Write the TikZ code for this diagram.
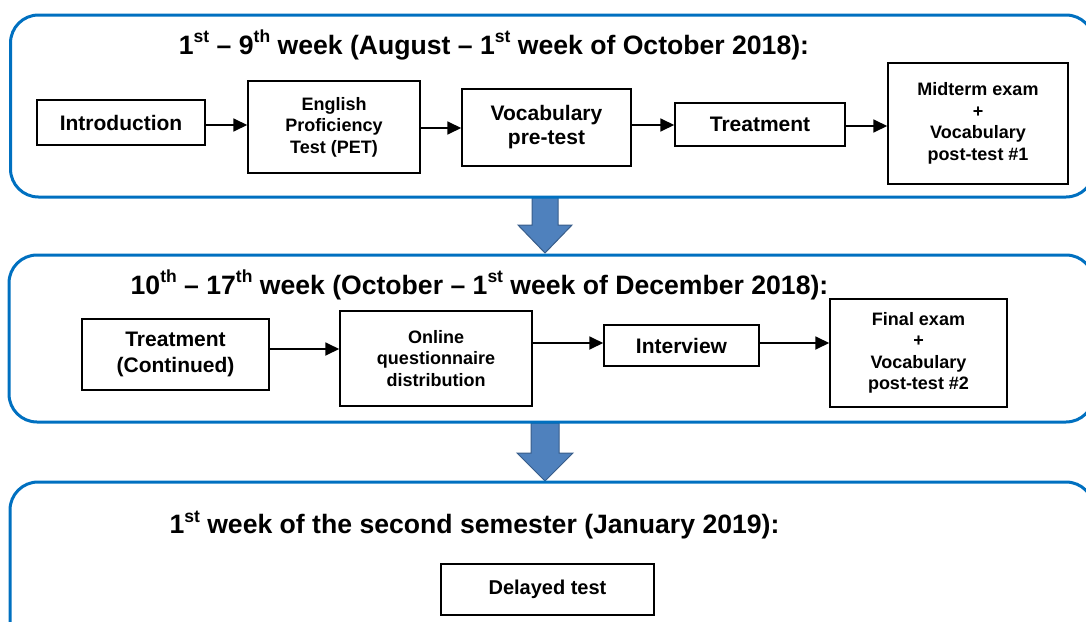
\documentclass[tikz,border=0pt]{standalone}
\usepackage{fontspec}
\setmainfont{Liberation Sans}
\usetikzlibrary{arrows.meta}
\definecolor{frameblue}{HTML}{0070C0}
\definecolor{arrowfill}{HTML}{4F81BD}
\definecolor{arrowline}{HTML}{385D8A}
% small raised ordinal suffix
\newcommand\ordsup[1]{\raisebox{0.42em}{\fontsize{17.5}{17.5}\selectfont #1}}
\begin{document}
\begin{tikzpicture}[x=1pt,y=-1pt,
  stage/.style={draw=frameblue, line width=3pt, rounded corners=28pt},
  stepbox/.style={draw=black, line width=1.5pt, align=center, inner sep=0pt,
    font=\bfseries\fontsize{21}{24}\selectfont},
  small/.style={font=\bfseries\fontsize{18}{21.5}\selectfont},
  flow/.style={-{Triangle[length=14pt,width=13pt]}, line width=1.8pt},
  title/.style={inner sep=0pt, font=\bfseries\fontsize{26.6}{30}\selectfont},
  bigarrow/.style={fill=arrowfill, draw=arrowline, line width=1pt}]
\useasboundingbox (0,0) rectangle (1086,621);

% block arrows between the stages
\draw[bigarrow] (532,197) -- (558,197) -- (558,225) -- (572,225) -- (545,253)
  -- (518,225) -- (532,225) -- cycle;
\draw[bigarrow] (531,423) -- (559,423) -- (559,453) -- (573,453) -- (545,481)
  -- (517,453) -- (531,453) -- cycle;

% stage frames
\draw[stage] (10.5,15) rectangle (1094,197);
\draw[stage] (9,255) rectangle (1094,422);
\draw[stage] (10,482) rectangle (1094,660);

% stage 1
\node[title] (t1) at (494,45)
  {1\ordsup{st} – 9\ordsup{th} week (August – 1\ordsup{st} week of October 2018):};
\node[stepbox, minimum width=168pt, minimum height=45pt] (intro) at (121,122.5) {Introduction};
\node[stepbox, small, minimum width=172pt, minimum height=92pt] (pet) at (334,127)
  {English\\Proficiency\\Test (PET)};
\node[stepbox, minimum width=169pt, minimum height=77pt] (vpre) at (546.5,127.5)
  {Vocabulary\\pre-test};
\node[stepbox, minimum width=170pt, minimum height=43pt] (treat) at (760,124.5) {Treatment};
\node[stepbox, small, minimum width=180pt, minimum height=121pt] (mid) at (978,123.5)
  {Midterm exam\\+\\Vocabulary\\post-test \#1};

\draw[flow] (intro.east |- 0,125) -- (pet.west |- 0,125);
\draw[flow] (pet.east |- 0,128) -- (vpre.west |- 0,128);
\draw[flow] (vpre.east |- 0,125) -- (treat.west |- 0,125);
\draw[flow] (treat.east |- 0,126) -- (mid.west |- 0,126);

% stage 2
\node[title] (t2) at (479.5,285)
  {10\ordsup{th} – 17\ordsup{th} week (October – 1\ordsup{st} week of December 2018):};
\node[stepbox, font=\bfseries\fontsize{21}{26}\selectfont, minimum width=187pt, minimum height=71pt]
  (tc) at (175.5,354.5) {Treatment\\(Continued)};
\node[stepbox, small, minimum width=192pt, minimum height=95pt] (online) at (436,358.5)
  {Online\\questionnaire\\distribution};
\node[stepbox, minimum width=155pt, minimum height=41pt] (interview) at (681.5,345.5) {Interview};
\node[stepbox, small, minimum width=177pt, minimum height=108pt] (final) at (918.5,353)
  {Final exam\\+\\Vocabulary\\post-test \#2};

\draw[flow] (tc.east |- 0,349) -- (online.west |- 0,349);
\draw[flow] (online.east |- 0,343) -- (interview.west |- 0,343);
\draw[flow] (interview.east |- 0,343) -- (final.west |- 0,343);

% stage 3
\node[title] (t3) at (474.5,525)
  {1\ordsup{st} week of the second semester (January 2019):};
\node[stepbox, font=\bfseries\fontsize{20}{24}\selectfont, minimum width=213pt, minimum height=51pt]
  (delayed) at (547.5,589.5) {Delayed test};
\end{tikzpicture}
\end{document}
